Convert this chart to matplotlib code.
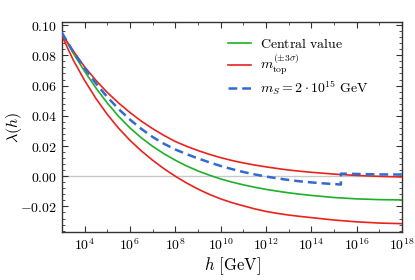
import numpy as np
import matplotlib
matplotlib.use("Agg")
import matplotlib.pyplot as plt
from matplotlib.ticker import FixedLocator, FuncFormatter

plt.rcParams['mathtext.fontset'] = 'cm'
plt.rcParams['font.family'] = ['DejaVu Serif']

# log10(h / GeV) sample points
logh = [3, 3.5, 4, 4.5, 5, 5.5, 6, 6.5, 7, 7.5, 8, 8.5, 9, 9.5, 10, 10.5, 11, 11.5,
        12, 12.5, 13, 13.5, 14, 15, 16, 17, 18]
central = [0.095, 0.0815, 0.0695, 0.0585, 0.0485, 0.0397, 0.0320, 0.0255, 0.0198, 0.0149,
           0.0106, 0.0068, 0.0035, 0.0007, -0.0018, -0.0039, -0.0057, -0.0073, -0.0087,
           -0.0099, -0.0110, -0.0119, -0.0127, -0.0141, -0.0150, -0.0155, -0.0157]
top_plus = [0.094, 0.083, 0.0725, 0.0635, 0.0555, 0.0485, 0.0422, 0.0365, 0.0315, 0.0270,
            0.0230, 0.0198, 0.0170, 0.0145, 0.0123, 0.0104, 0.0088, 0.0074, 0.0062,
            0.0051, 0.0041, 0.0033, 0.0026, 0.0014, 0.0005, -0.0001, -0.0005]
top_minus = [0.093, 0.077, 0.0635, 0.0515, 0.0410, 0.0318, 0.0238, 0.0168, 0.0106, 0.0050,
             0.0000, -0.0045, -0.0085, -0.0120, -0.0150, -0.0175, -0.0196, -0.0216, -0.0233,
             -0.0246, -0.0257, -0.0266, -0.0274, -0.0290, -0.0302, -0.0310, -0.0314]
logh_s = [3, 3.5, 4, 4.5, 5, 5.5, 6, 6.5, 7, 7.5, 8, 8.5, 9, 9.5, 10, 10.5, 11, 11.5,
          12, 12.5, 13, 13.5, 14, 14.5, 15, 15.3, 15.3, 16, 17, 18]
ms_curve = [0.095, 0.0825, 0.0715, 0.0615, 0.0525, 0.0445, 0.0375, 0.0314, 0.0260, 0.0215,
            0.0177, 0.0146, 0.0118, 0.0092, 0.0068, 0.0047, 0.0028, 0.0012, -0.0002,
            -0.0014, -0.0025, -0.0034, -0.0041, -0.0047, -0.0052, -0.0055,
            0.0017, 0.0015, 0.0012, 0.0011]

green = '#1fae2a'
red = '#e8231c'
blue = '#2f6bd0'

fig = plt.figure(figsize=(4.15, 2.8), dpi=100)
ax = fig.add_axes([0.149, 0.171, 0.820, 0.750])

ax.axhline(0.0, color='#c8c8c8', lw=1.0, zorder=1)
h = lambda a: 10.0 ** np.asarray(a, dtype=float)
ax.plot(h(logh), central, color=green, lw=1.2, label=r'$\mathrm{Central\ value}$', zorder=3)
ax.plot(h(logh), top_plus, color=red, lw=1.2, label=r'$m_{\mathrm{top}}^{(\pm 3\sigma)}$', zorder=3)
ax.plot(h(logh), top_minus, color=red, lw=1.2, zorder=3)
ax.plot(h(logh_s), ms_curve, color=blue, lw=1.8, dashes=(3.5, 2.0),
        label=r'$m_S = 2\cdot 10^{15}\ \mathrm{GeV}$', zorder=4)

ax.set_xscale('log')
ax.set_xlim(1e3, 1e18)
ax.set_ylim(-0.037, 0.102)

ax.xaxis.set_major_locator(FixedLocator([10.0**k for k in range(4, 19, 2)]))
ax.xaxis.set_minor_locator(FixedLocator([10.0**k for k in range(3, 18, 2)]))
ax.xaxis.set_major_formatter(FuncFormatter(lambda v, p: r'$10^{%d}$' % int(round(np.log10(v)))))
ax.xaxis.set_minor_formatter(FuncFormatter(lambda v, p: ''))

ax.yaxis.set_major_locator(FixedLocator([-0.02, 0.0, 0.02, 0.04, 0.06, 0.08, 0.10]))
ax.yaxis.set_minor_locator(FixedLocator(np.round(np.arange(-0.036, 0.1021, 0.004), 4)))
ax.yaxis.set_major_formatter(FuncFormatter(lambda v, p: r'$%.2f$' % v))

ax.tick_params(which='both', direction='in', top=True, right=True, labelsize=10,
               colors='#333333', labelcolor='black')
ax.tick_params(which='major', length=4, width=0.8)
ax.tick_params(which='minor', length=2, width=0.6)
for s in ax.spines.values():
    s.set_linewidth(1.0)
    s.set_color('#333333')

ax.set_xlabel(r'$h\ [\mathrm{GeV}]$', fontsize=12, labelpad=2)
ax.set_ylabel(r'$\lambda(h)$', fontsize=11.5)
ax.yaxis.set_label_coords(-0.112, 0.5)

ax.legend(loc='upper left', bbox_to_anchor=(0.468, 0.962), frameon=False, fontsize=10,
          borderpad=0, handlelength=1.65, handletextpad=0.65, labelspacing=0.12)

fig.savefig('out.png', dpi=100)
